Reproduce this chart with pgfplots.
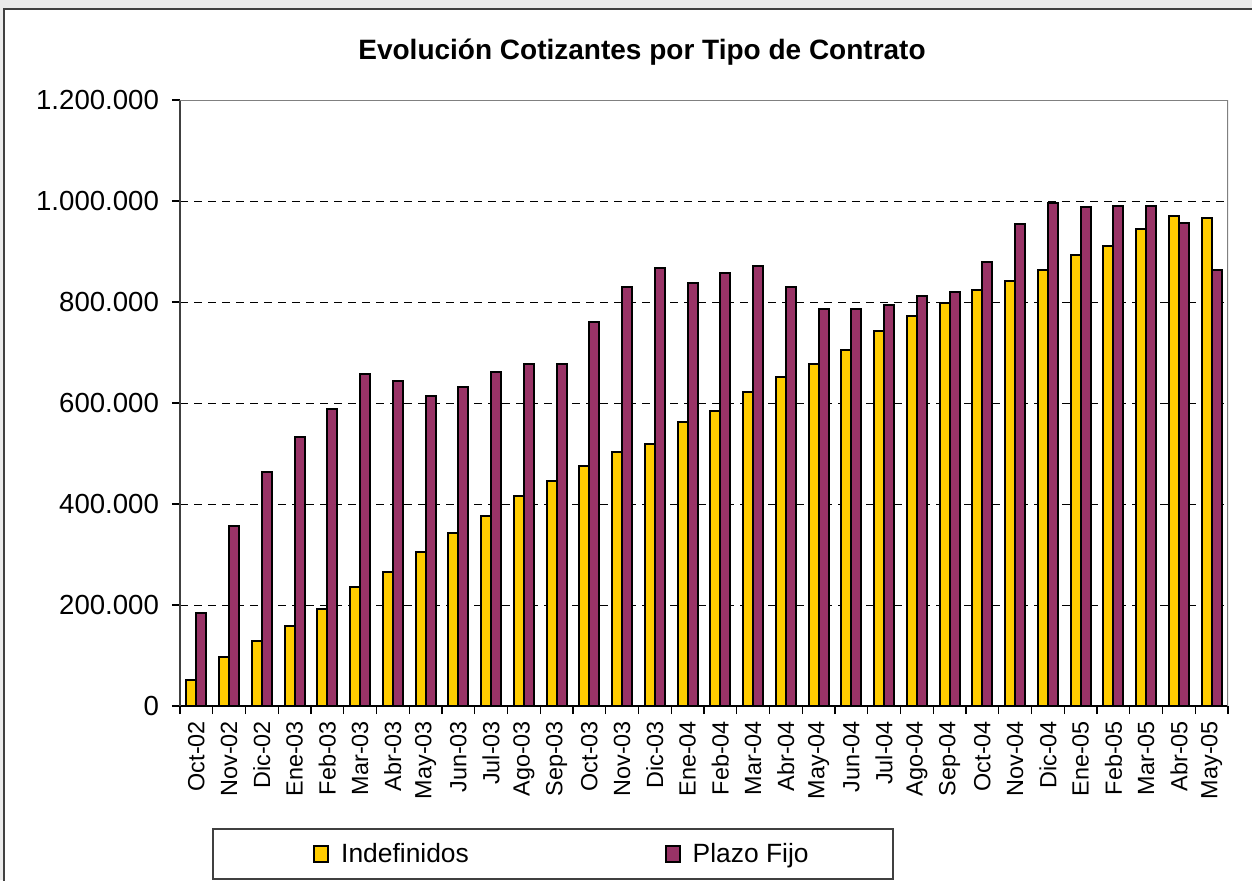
\documentclass[border=0pt]{standalone}
\usepackage{fontspec}
\setmainfont{Liberation Sans}
\usepackage{pgfplots}
\pgfplotsset{compat=1.18}
\definecolor{amarillo}{HTML}{FFCC00}
\definecolor{granate}{HTML}{993366}
\begin{document}
\begin{tikzpicture}
\clip (0,0) rectangle (626pt,440pt);
\fill[black!8] (0,0) rectangle (626pt,440pt);
\draw[fill=white, draw=black!75, line width=1pt] (2pt,-5pt) rectangle (640pt,435.5pt);
\node[font=\bfseries\fontsize{14}{17}\selectfont] at (321pt,414pt) {Evolución Cotizantes por Tipo de Contrato};
\draw[black!75, line width=0.6pt] (106.5pt,0.5pt) rectangle (446.5pt,25.5pt);
\begin{axis}[
  at={(90pt,87pt)}, anchor=south west,
  scale only axis, width=524pt, height=303pt,
  ybar=0pt, bar width=5pt,
  xmin=-0.5, xmax=31.5, ymin=0, ymax=1200000,
  axis x line*=bottom, axis y line*=left,
  axis line style={-},
  x axis line style={black, line width=1pt},
  y axis line style={black!75, line width=1pt},
  xtick={-0.5,0.5,...,31.5},
  x tick label as interval,
  xticklabels={Oct-02,Nov-02,Dic-02,Ene-03,Feb-03,Mar-03,Abr-03,May-03,Jun-03,Jul-03,Ago-03,Sep-03,Oct-03,Nov-03,Dic-03,Ene-04,Feb-04,Mar-04,Abr-04,May-04,Jun-04,Jul-04,Ago-04,Sep-04,Oct-04,Nov-04,Dic-04,Ene-05,Feb-05,Mar-05,Abr-05,May-05},
  ytick={0,200000,400000,600000,800000,1000000,1200000},
  tick align=outside, major tick length=4pt,
  tick style={black, line width=0.6pt},
  ymajorgrids, grid style={black, dash pattern=on 4pt off 3pt, line width=0.5pt},
  scaled y ticks=false,
  /pgf/number format/assume math mode=true,
  yticklabel style={/pgf/number format/.cd, fixed, precision=0, 1000 sep={.}, /tikz/.cd, font=\fontsize{13.8}{16}\selectfont, xshift=-3pt},
  xticklabel style={rotate=90, anchor=east, font=\fontsize{11.7}{14}\selectfont},
  legend image code/.code={\draw[#1, line width=0.9pt] (0pt,-4pt) rectangle (7pt,4pt);},
  legend style={at={(0.1269,-0.2442)}, anchor=west, draw=none, fill=none, inner sep=0pt,
    font=\fontsize{13.2}{16}\selectfont,
    /tikz/every odd column/.append style={column sep=4pt},
    /tikz/every even column/.append style={column sep=96pt}},
  legend columns=2, legend cell align=left,
  every axis plot/.append style={draw=black, line width=1pt},
]
\addplot[fill=amarillo] coordinates {
(0,50600) (1,98000) (2,128600) (3,158000) (4,192000) (5,236000) (6,266000) (7,305000)
(8,343000) (9,377000) (10,415000) (11,446500) (12,475000) (13,502000) (14,519000) (15,562000)
(16,584000) (17,622000) (18,652000) (19,678000) (20,704000) (21,743000) (22,772000) (23,798000)
(24,824000) (25,842000) (26,863000) (27,893000) (28,910000) (29,945000) (30,970000) (31,967000)};
\addplot[fill=granate] coordinates {
(0,184000) (1,356000) (2,464000) (3,532000) (4,588000) (5,657000) (6,644000) (7,613000)
(8,631000) (9,661000) (10,678000) (11,678000) (12,760000) (13,829000) (14,868000) (15,837000)
(16,858000) (17,871000) (18,829000) (19,786000) (20,786000) (21,795000) (22,811000) (23,820000)
(24,880000) (25,954000) (26,996000) (27,988000) (28,991000) (29,991000) (30,957000) (31,863000)};
\legend{Indefinidos,Plazo Fijo}
\draw[black!50, line width=1pt] (rel axis cs:0,1) -- (rel axis cs:1,1) -- (rel axis cs:1,0);
\end{axis}
\end{tikzpicture}
\end{document}
